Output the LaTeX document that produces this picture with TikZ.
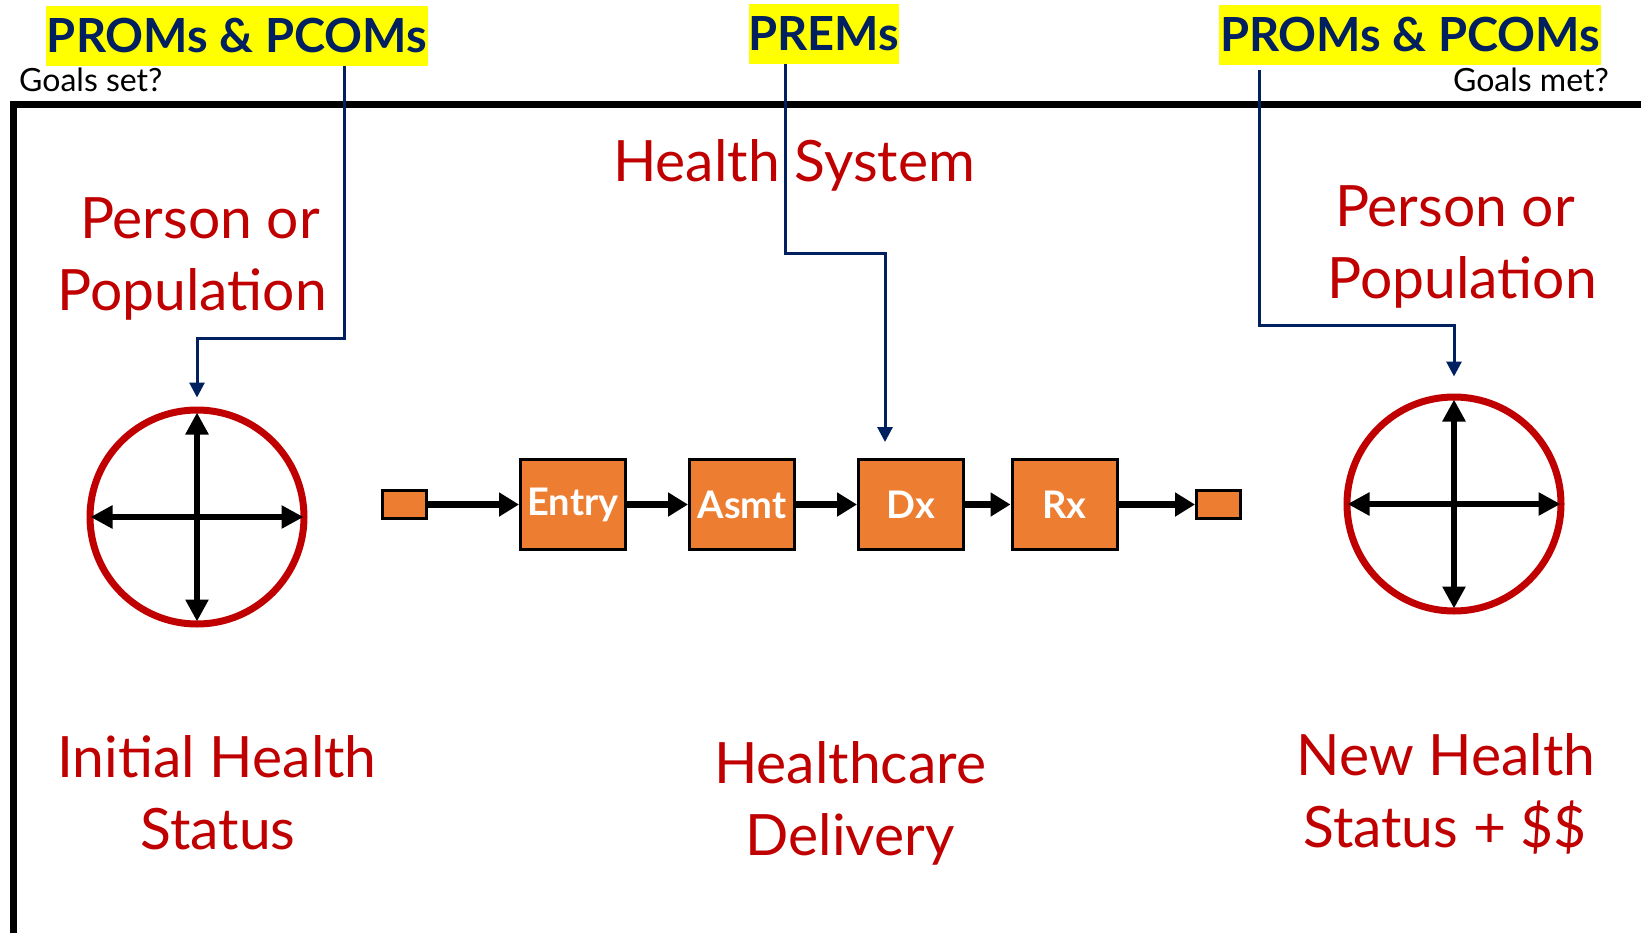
\documentclass[tikz,border=0pt]{standalone}
\usepackage{fontspec}
\setmainfont{Lato}
\usetikzlibrary{arrows.meta}
\definecolor{hsred}{HTML}{C00000}
\definecolor{hsnavy}{HTML}{002060}
\definecolor{hsorange}{HTML}{ED7D31}
\definecolor{hsyellow}{HTML}{FFFF00}
\tikzset{
  tag/.style={fill=hsyellow, text=hsnavy, font=\bfseries\fontsize{47}{50}\selectfont,
    inner sep=0pt, minimum height=60, anchor=center},
  redlabel/.style={text=hsred, font=\fontsize{57}{70}\selectfont, inner sep=0pt, anchor=base},
  smalllabel/.style={text=black, font=\fontsize{32}{36}\selectfont, inner sep=0pt, anchor=base west},
  procbox/.style={draw=black, line width=3, fill=hsorange, text=white,
    font=\bfseries\fontsize{38}{40}\selectfont, minimum width=105, minimum height=90, inner sep=0pt},
  endbox/.style={draw=black, line width=3, fill=hsorange, minimum width=44, minimum height=28, inner sep=0pt},
  statecircle/.style={draw=hsred, line width=7, circle, minimum size=214, inner sep=0pt},
  flow/.style={line width=7, -{Triangle[length=20,width=23]}},
  axis/.style={line width=6, {Triangle[length=22,width=22]}-{Triangle[length=22,width=22]}},
  conn/.style={draw=hsnavy, line width=3, -{Triangle[length=15,width=15]}}
}
\begin{document}
\begin{tikzpicture}[x=1pt, y=-1pt]
\useasboundingbox (0,0) rectangle (1641,932);
\fill[white] (0,0) rectangle (1641,932);

% open frame around the health system
\draw[line width=7] (13.5,940) -- (13.5,104) -- (1650,104);

% measurement tags
\node[tag, minimum width=382] (p1) at (237,36) {PROMs \& PCOMs};
\node[tag, minimum width=150] (p2) at (824,34) {PREMs};
\node[tag, minimum width=382] (p3) at (1410,35) {PROMs \& PCOMs};
\node[smalllabel] (gs) at (19,91) {Goals set?};
\node[smalllabel, anchor=base east] (gm) at (1609,91) {Goals met?};

% headings
\node[redlabel] (hs) at (794,181) {Health System};
\node[redlabel] (l1a) at (200,238) {Person or};
\node[redlabel] (l1b) at (192,310) {Population};
\node[redlabel] (r1a) at (1455,226) {Person or};
\node[redlabel] (r1b) at (1462,298) {Population};

% health status circles
\node[statecircle] (c1) at (197,517) {};
\node[statecircle] (c2) at (1454,504) {};
\draw[axis] ([xshift=4]c1.west) -- ([xshift=-4]c1.east);
\draw[axis] ([yshift=-6]c1.north) -- ([yshift=6]c1.south);
\draw[axis] ([xshift=4]c2.west) -- ([xshift=-4]c2.east);
\draw[axis] ([yshift=-6]c2.north) -- ([yshift=6]c2.south);

% care delivery chain
\node[endbox] (s0) at (404.5,504.5) {};
\node[procbox] (entry) at (573,504.5) {Entry};
\node[procbox] (asmt) at (742,504.5) {Asmt};
\node[procbox] (dx) at (911,504.5) {Dx};
\node[procbox] (rx) at (1064.5,504.5) {Rx};
\node[endbox] (s5) at (1218.5,504.5) {};
\draw[flow] (s0) -- (entry);
\draw[flow] (entry) -- (asmt);
\draw[flow] (asmt) -- (dx);
\draw[flow] (dx) -- (rx);
\draw[flow] (rx) -- (s5);

% connectors from the tags
\coordinate (k1) at (197,338);
\coordinate (k2) at (885,253);
\coordinate (k3) at (1454,325);
\draw[conn] (p1.south -| 344,0) |- (k1) -- ([yshift=9]c1.north);
\draw[conn] (p2.south -| 785,0) |- (k2) -- ([yshift=16]k2 |- dx.north);
\draw[conn] ([yshift=-5]p3.south -| 1259,0) |- (k3) -- ([yshift=17]c2.north);

% bottom captions
\node[redlabel] (b1a) at (217,777) {Initial Health};
\node[redlabel] (b1b) at (218,849) {Status};
\node[redlabel] (b2a) at (850,783) {Healthcare};
\node[redlabel] (b2b) at (850,855) {Delivery};
\node[redlabel] (b3a) at (1446,775) {New Health};
\node[redlabel] (b3b) at (1445,847) {Status + \$\$};
\end{tikzpicture}
\end{document}
